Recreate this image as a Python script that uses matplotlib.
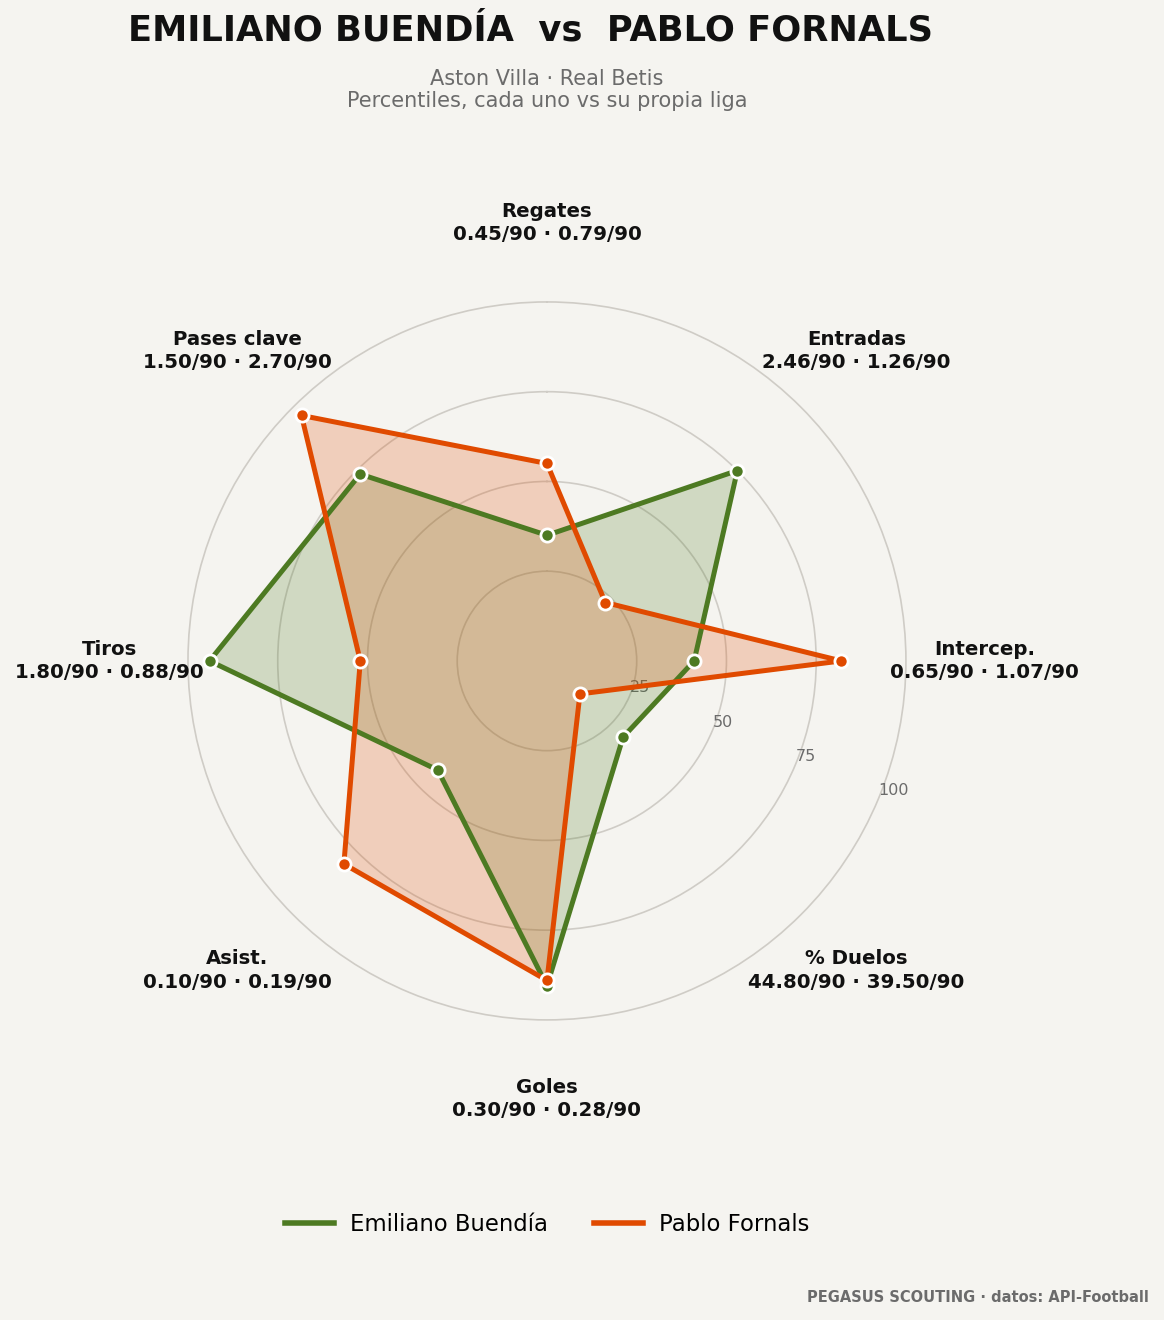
import numpy as np
import matplotlib
matplotlib.use("Agg")
import matplotlib.pyplot as plt
from matplotlib.lines import Line2D

# ---- data ----
categories = ["Regates", "Entradas", "Intercep.", "% Duelos", "Goles", "Asist.", "Tiros", "Pases clave"]
buendia_per90 = [0.45, 2.46, 0.65, 44.80, 0.30, 0.10, 1.80, 1.50]
fornals_per90 = [0.79, 1.26, 1.07, 39.50, 0.28, 0.19, 0.88, 2.70]
buendia_pct = [35, 75, 41, 30, 90.5, 43, 94, 73.6]
fornals_pct = [55, 23, 82, 13, 89, 80, 52, 96.7]
player_names = ["Emiliano Buendía", "Pablo Fornals"]
rticks = [25, 50, 75, 100]

BG = "#f5f4f0"
GREEN = "#4d7a22"
ORANGE = "#e04a00"

fig = plt.figure(figsize=(11.64, 13.2), dpi=100, facecolor=BG)
ax = fig.add_axes([0.1615, 0.2273, 0.6168, 0.544], projection="polar")
ax.set_facecolor(BG)
ax.set_theta_offset(np.pi / 2)
ax.set_theta_direction(-1)

n = len(categories)
angles = np.linspace(0, 2 * np.pi, n, endpoint=False)
ang_c = np.concatenate([angles, angles[:1]])

for vals, col in [(buendia_pct, GREEN), (fornals_pct, ORANGE)]:
    v = np.concatenate([vals, vals[:1]])
    ax.fill(ang_c, v, color=col, alpha=0.22, zorder=1, linewidth=0)
    ax.plot(ang_c, v, color=col, lw=3.6, zorder=3, solid_joinstyle="miter")
    ax.plot(angles, vals, "o", color=col, ms=9.5, mec="white", mew=2, zorder=4)

ax.set_ylim(0, 100)
ax.set_yticks(rticks)
ax.set_yticklabels([str(t) for t in rticks], color="#6b6b6b", fontsize=11.5)
ax.set_rlabel_position(112.5)
ax.yaxis.grid(True, color="#cfccc6", lw=1.2)
for gl in ax.yaxis.get_gridlines():
    gl.set_clip_on(False)
ax.set_xticks(angles)
ax.set_xticklabels([])
ax.xaxis.grid(False)
for sp in ax.spines.values():
    sp.set_visible(False)
ax.set_axisbelow(True)
ax.tick_params(axis="both", which="both", length=0, width=0)

for a, cat, b, f in zip(angles, categories, buendia_per90, fornals_per90):
    ax.text(a, 122, f"{cat}\n{b:.2f}/90 · {f:.2f}/90", ha="center", va="center",
            fontsize=14.2, fontweight="bold", color="#111111", linespacing=1.3)

fig.text(0.456, 0.977, "EMILIANO BUENDÍA  vs  PABLO FORNALS", ha="center", va="center",
         fontsize=25.4, fontweight="bold", color="#111111")
fig.text(0.47, 0.932, "Aston Villa · Real Betis\nPercentiles, cada uno vs su propia liga",
         ha="center", va="center", fontsize=15, color="#6b6b6b", linespacing=1.15)

handles = [Line2D([0], [0], color=GREEN, lw=4), Line2D([0], [0], color=ORANGE, lw=4)]
fig.legend(handles, player_names, loc="center", bbox_to_anchor=(0.47, 0.0727), ncol=2,
           frameon=False, fontsize=16.4, handlelength=2.15, handletextpad=0.7,
           columnspacing=2.0)

fig.text(0.987, 0.0174, "PEGASUS SCOUTING · datos: API-Football", ha="right", va="center",
         fontsize=10.5, fontweight="bold", color="#6b6b6b")

fig.savefig("out.png", dpi=100, facecolor=BG)
